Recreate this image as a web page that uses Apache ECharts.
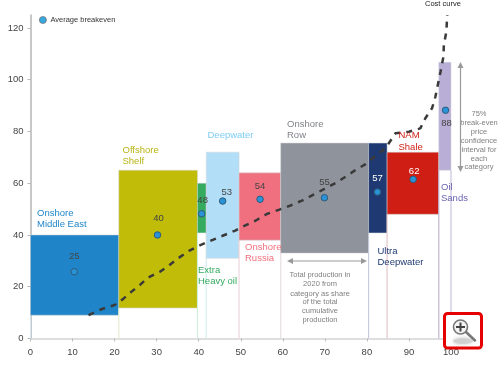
<!DOCTYPE html>
<html><head><meta charset="utf-8">
<style>html,body{margin:0;padding:0;background:#fff}#c{width:500px;height:365px}</style>
<script src="https://cdn.jsdelivr.net/npm/echarts@6/dist/echarts.min.js"></script>
</head><body><div id="c"></div>
<script>
var xTicks = [0,10,20,30,40,50,60,70,80,90,100];
var yTicks = [0,20,40,60,80,100,120];
var categories = ['Onshore Middle East','Offshore Shelf','Extra Heavy oil','Deepwater','Onshore Russia','Onshore Row','Ultra Deepwater','NAM Shale','Oil Sands'];
var blockStart = [0,21,39.7,41.8,49.6,59.5,80.4,84.8,97.1];
var blockEnd   = [21,39.7,41.8,49.6,59.5,80.4,84.8,97.1,100];
var blockLow   = [9,11.8,40.8,31,38,33,40.8,48,65];
var blockHigh  = [40,65,60,72,64,75.5,75.5,72,106.7];
var blockColors = ['#1f85c8','#c0bc08','#34ab5f','#b3def8','#f0707f','#8f939b','#1f3a73','#cf1e14','#b8aed6'];
var dropColors = ['#d5e8f4','#f2f2d0','#cfeedd','#dcf0fb','#fbd5da','#e3e4e7','#c2cad9','#f9d4d2','#bdb8d6'];
var breakevenX = [10.4,30.2,40.7,45.7,54.6,69.9,82.5,91,98.7];
var breakevenY = [25.8,40,48.2,53.1,53.8,54.4,56.6,61.5,88.2];
var breakevenText = ['25','40','48','53','54','55','57','62','88'];
var curveX = [13.8,17,20.1,22.1,24.1,26.1,28,30.7,33,35.2,37.7,40.4,42.9,45.7,48.7,51.1,53.5,56.2,59.2,62,64.7,67.3,69.9,72.7,74.9,77.3,79.6,82.8,84.4,86.8,90,92.7,93.9,95.5,96.3,97.5,98.2,98.3,98.9,99.1];
var curveY = [9,11.4,13,15.4,18.2,20.8,23.6,25.7,28.3,31.1,33.9,36.1,37.8,39.7,41.7,43.7,45.5,48.1,49.8,51.5,53.4,55.6,57.8,60.2,62.5,65.1,67.3,71.6,73.5,79.3,79.9,81.2,85.1,89,93.5,103,108.9,113.4,118.6,125];

var font = '"Liberation Sans", Arial, sans-serif';
var blocks = categories.map(function(n,i){return [blockStart[i],blockEnd[i],blockLow[i],blockHigh[i],i];});
var valueOffsets = [[0,-15],[1,-17],[1,-13],[4,-9],[0,-13],[0,-15],[0,-14],[1,-8],[1,13]];
var valueColors = ['#444','#444','#444','#444','#444','#444','#fff','#fff','#444'];
var points = breakevenX.map(function(x,i){
  return {value:[x,breakevenY[i]],label:{show:true,formatter:breakevenText[i],position:'inside',offset:valueOffsets[i],color:valueColors[i],fontSize:9.5,fontFamily:font}};
});
function txt(x,y,text,color,size,align){
  return {type:'text',x:x,y:y,silent:true,z:20,style:{text:text,fill:color,font:(size||9.5)+'px '+font,textAlign:align||'left',textVerticalAlign:'middle'}};
}
var gfx = [
  txt(37,213.5,'Onshore','#1f85c8'),txt(37,224.5,'Middle East','#1f85c8'),
  txt(122.5,150,'Offshore','#b9b514'),txt(122.5,161,'Shelf','#b9b514'),
  txt(207.5,135,'Deepwater','#7fcdf5'),
  txt(198,270,'Extra','#34ab5f'),txt(198,281,'Heavy oil','#34ab5f'),
  txt(245,247,'Onshore','#f0707f'),txt(245,258.5,'Russia','#f0707f'),
  txt(287,124.5,'Onshore','#808389'),txt(287,135,'Row','#808389'),
  txt(377.5,251,'Ultra','#1f3a73'),txt(377.5,262,'Deepwater','#1f3a73'),
  txt(398.5,135.5,'NAM','#cf1e14'),txt(398.5,147.5,'Shale','#cf1e14'),
  txt(441,187,'Oil','#6a63b0'),txt(441,198.5,'Sands','#6a63b0'),
  txt(425,4,'Cost curve','#222',7.5),
  txt(320,275,'Total production in','#808080',7.5,'center'),
  txt(320,283.5,'2020 from','#808080',7.5,'center'),
  txt(320,293.5,'category as share','#808080',7.5,'center'),
  txt(320,302,'of the total','#808080',7.5,'center'),
  txt(320,311,'cumulative','#808080',7.5,'center'),
  txt(320,320,'production','#808080',7.5,'center'),
  txt(479,114,'75%','#808080',7.5,'center'),
  txt(479,123,'break-even','#808080',7.5,'center'),
  txt(479,132,'price','#808080',7.5,'center'),
  txt(479,140.5,'confidence','#808080',7.5,'center'),
  txt(479,150,'interval for','#808080',7.5,'center'),
  txt(479,159,'each','#808080',7.5,'center'),
  txt(479,167,'category','#808080',7.5,'center'),
  {type:'line',z:20,shape:{x1:290,y1:261,x2:364,y2:261},style:{stroke:'#999',lineWidth:1.2}},
  {type:'polygon',z:20,shape:{points:[[287,261],[293,258],[293,264]]},style:{fill:'#999'}},
  {type:'polygon',z:20,shape:{points:[[367,261],[361,258],[361,264]]},style:{fill:'#999'}},
  {type:'line',z:20,shape:{x1:460.5,y1:66,x2:460.5,y2:168},style:{stroke:'#999',lineWidth:1.2}},
  {type:'polygon',z:20,shape:{points:[[460.5,62],[457.5,68],[463.5,68]]},style:{fill:'#999'}},
  {type:'polygon',z:20,shape:{points:[[460.5,172],[457.5,166],[463.5,166]]},style:{fill:'#999'}},
  {type:'rect',z:30,shape:{x:444.5,y:313.5,width:37,height:34.5,r:3},style:{fill:'#fff',stroke:'#e60000',lineWidth:3}},
  {type:'ellipse',z:31,shape:{cx:463,cy:341,rx:10,ry:3},style:{fill:'#ccc',opacity:0.7,shadowBlur:4,shadowColor:'#bbb'}},
  {type:'line',z:32,shape:{x1:466,y1:332,x2:475,y2:340.5},style:{stroke:'#777',lineWidth:2.5,lineCap:'round'}},
  {type:'circle',z:32,shape:{cx:460.5,cy:327,r:7},style:{fill:'#f3f3f3',stroke:'#777',lineWidth:1.6}},
  {type:'line',z:33,shape:{x1:456,y1:327,x2:465,y2:327},style:{stroke:'#444',lineWidth:2}},
  {type:'line',z:33,shape:{x1:460.5,y1:322.5,x2:460.5,y2:331.5},style:{stroke:'#444',lineWidth:2}}
];
var chart = echarts.init(document.getElementById('c'),null,{renderer:'canvas'});
chart.setOption({
  animation:false,
  backgroundColor:'#fff',
  textStyle:{fontFamily:font},
  grid:{left:30.5,right:49,top:15,bottom:26.5,containLabel:false},
  legend:{left:39,top:16,itemWidth:7,itemHeight:7,itemGap:3,
    data:[{name:'Average breakeven',icon:'circle',itemStyle:{color:'#36a8e0',borderColor:'#777',borderWidth:0.8}}],
    textStyle:{fontSize:7.5,color:'#333',fontFamily:font,padding:[0,0,0,-1]},padding:0},
  xAxis:{type:'value',min:0,max:100,interval:10,splitLine:{show:false},
    axisLine:{onZero:false,lineStyle:{color:'#d4d4d4',width:1.5}},
    axisTick:{show:true,length:3,lineStyle:{color:'#bbb'}},
    axisLabel:{color:'#444',fontSize:9.5,margin:9,fontFamily:font,customValues:xTicks}},
  yAxis:{type:'value',min:0,max:125,splitLine:{show:false},
    axisLine:{show:true,onZero:false,lineStyle:{color:'#b5b5b5',width:1.5}},
    axisTick:{show:true,length:3,lineStyle:{color:'#b5b5b5'},customValues:yTicks},
    axisLabel:{color:'#444',fontSize:9.5,margin:7,fontFamily:font,customValues:yTicks}},
  series:[
    {type:'custom',name:'Blocks',data:blocks,clip:false,z:2,
      encode:{x:[0,1],y:[2,3]},
      renderItem:function(params,api){
        var x0=api.value(0),x1=api.value(1),lo=api.value(2),hi=api.value(3),i=api.value(4);
        var tl=api.coord([x0,hi]),br=api.coord([x1,lo]),axl=api.coord([x0,0]),axr=api.coord([x1,0]);
        var drop={stroke:dropColors[i],lineWidth:1};
        return {type:'group',children:[
          {type:'line',shape:{x1:tl[0],y1:br[1],x2:axl[0],y2:axl[1]},style:drop},
          {type:'line',shape:{x1:br[0],y1:br[1],x2:axr[0],y2:axr[1]},style:drop},
          {type:'rect',shape:{x:tl[0],y:tl[1],width:br[0]-tl[0],height:br[1]-tl[1]},style:{fill:blockColors[i],stroke:'#d0d2d6',lineWidth:0.5}}
        ]};
      }},
    {type:'line',name:'Cost curve',data:curveX.map(function(x,i){return [x,curveY[i]];}),clip:false,z:4,
      showSymbol:false,symbol:'none',smooth:false,lineStyle:{color:'#3a3a3a',width:2.5,type:[6,6]}},
    {type:'scatter',name:'Average breakeven',data:points,z:5,symbol:'circle',symbolSize:6.5,clip:false,
      itemStyle:{color:'#2a93d8',borderColor:'#2f5a78',borderWidth:1,opacity:1}}
  ],
  graphic:gfx
});
</script></body></html>
